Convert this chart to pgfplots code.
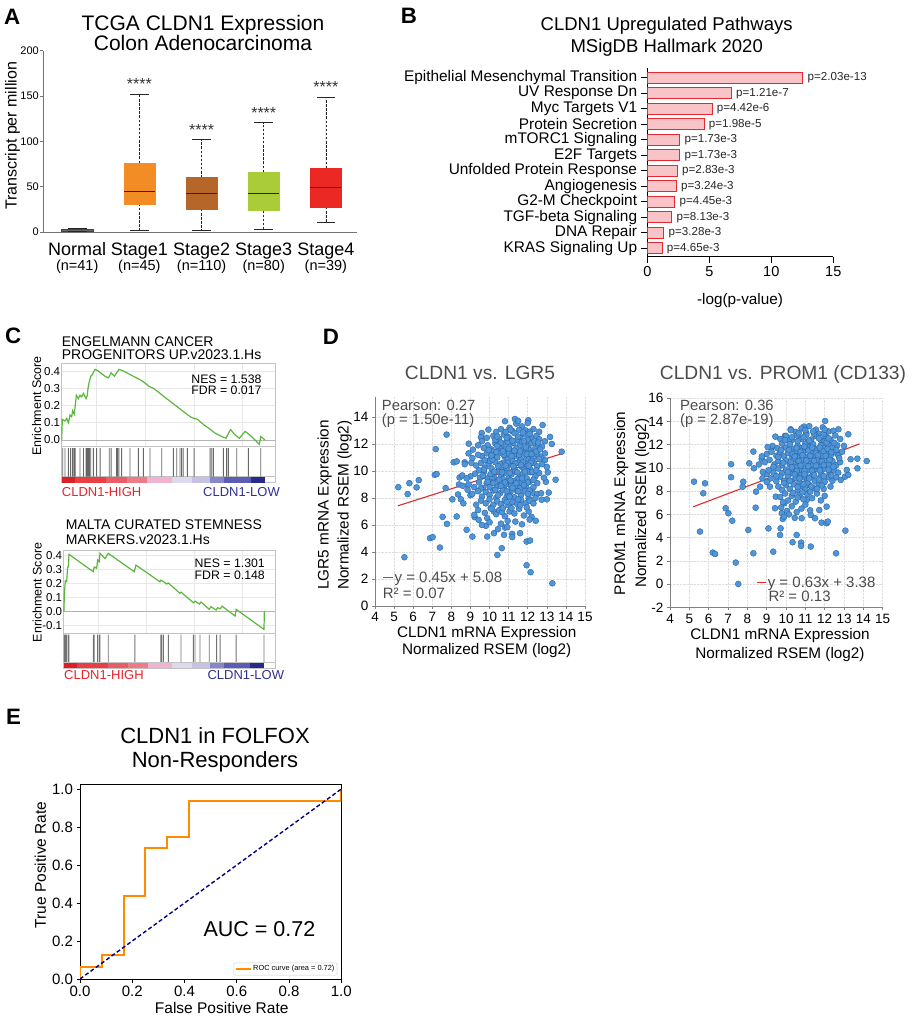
\documentclass[border=0pt]{standalone}
\usepackage{fontspec}
\setmainfont{Liberation Sans}
\usepackage{pgfplots}
\usepackage{pgfplotstable}
\usepgfplotslibrary{statistics}
\pgfplotsset{compat=1.18}
\newcommand{\fs}[1]{\fontsize{#1pt}{#1pt}\selectfont}
\definecolor{aNormal}{RGB}{58,58,150}
\definecolor{aS1}{RGB}{243,140,36}
\definecolor{aS2}{RGB}{183,102,42}
\definecolor{aS3}{RGB}{170,204,56}
\definecolor{aS4}{RGB}{236,40,36}
\definecolor{bFill}{RGB}{248,196,200}
\definecolor{bDraw}{RGB}{232,40,48}
\definecolor{cGreen}{RGB}{92,182,62}
\definecolor{cFrame}{RGB}{195,195,195}
\definecolor{cGrid}{RGB}{232,232,232}
\definecolor{cHigh}{RGB}{232,35,42}
\definecolor{cLow}{RGB}{46,49,146}
\definecolor{dFill}{RGB}{80,150,215}
\definecolor{dDraw}{RGB}{40,100,170}
\definecolor{dRed}{RGB}{220,45,45}
\definecolor{dText}{RGB}{75,75,75}
\definecolor{eOrange}{RGB}{255,140,0}
\definecolor{eNavy}{RGB}{0,0,128}
\definecolor{hm1}{RGB}{222,30,38}
\definecolor{hm2}{RGB}{232,62,68}
\definecolor{hm3}{RGB}{234,92,102}
\definecolor{hm4}{RGB}{238,124,134}
\definecolor{hm5}{RGB}{240,180,206}
\definecolor{hm6}{RGB}{222,218,238}
\definecolor{hm7}{RGB}{198,194,230}
\definecolor{hm8}{RGB}{134,134,202}
\definecolor{hm9}{RGB}{92,92,178}
\definecolor{hm10}{RGB}{38,42,140}
\pgfplotsset{pan/.style={scale only axis, anchor=south west, /pgf/number format/assume math mode=true}}

\pgfplotstableread{
y v lab
12 12.55 p=2.03e-13
11 6.78 p=1.21e-7
10 5.22 p=4.42e-6
9 4.58 p=1.98e-5
8 2.62 p=1.73e-3
7 2.62 p=1.73e-3
6 2.42 p=2.83e-3
5 2.34 p=3.24e-3
4 2.22 p=4.45e-3
3 1.98 p=8.13e-3
2 1.34 p=3.28e-3
1 1.20 p=4.65e-3
}\tabB

\begin{document}
\begin{tikzpicture}
\path[use as bounding box] (0pt,0pt) rectangle (912pt,1017pt);

% ---------------- Panel labels
\node[anchor=base west, inner sep=0pt, font=\bfseries\fs{22.3}] at (4pt,992.7pt) {A};
\node[anchor=base west, inner sep=0pt, font=\bfseries\fs{22.3}] at (400.7pt,993.7pt) {B};
\node[anchor=base west, inner sep=0pt, font=\bfseries\fs{22.3}] at (5pt,673.7pt) {C};
\node[anchor=base west, inner sep=0pt, font=\bfseries\fs{22.3}] at (322.7pt,672.7pt) {D};
\node[anchor=base west, inner sep=0pt, font=\bfseries\fs{22.3}] at (6pt,292pt) {E};

% ---------------- Panel A
\node[anchor=base, inner sep=0pt, font=\fs{21}] at (203pt,986pt) {TCGA CLDN1 Expression};
\node[anchor=base, inner sep=0pt, font=\fs{21}] at (203pt,966.3pt) {Colon Adenocarcinoma};
\node[anchor=base, inner sep=0pt, rotate=90, font=\fs{16}] at (16.7pt,881pt) {Transcript per million};
\begin{axis}[pan, at={(43pt,785pt)}, width=314pt, height=181.3pt,
  xmin=0.45, xmax=5.5, ymin=0, ymax=200,
  axis lines=left, axis line style={-, black!55, line width=0.8pt},
  xtick={1,2,3,4,5}, xticklabels={Normal,Stage1,Stage2,Stage3,Stage4},
  xtick style={draw=none},
  ytick={0,50,100,150,200}, ytick style={black!55, line width=0.8pt},
  tick align=outside, major tick length=3pt,
  yticklabel style={font=\fs{11}, inner sep=1pt},
  xticklabel style={font=\fs{18}, anchor=base, yshift=-21pt, inner sep=0pt},
  boxplot/draw direction=y,
  boxplot/every whisker/.style={draw=black!85, dash pattern=on 2.5pt off 1.6pt, line width=0.7pt},
  boxplot/every median/.style={draw=black!85, line width=1.1pt},
  boxplot/whisker extend=0,
  boxplot/box extend=0.5]
\addplot[fill=aNormal, draw=aNormal, boxplot/every median/.style={draw=black!60, line width=0.5pt}, boxplot prepared={draw position=1, lower whisker=0.5, lower quartile=0.8, median=2.0, upper quartile=3.3, upper whisker=4.2}] coordinates {};
\addplot[fill=aS1, draw=aS1, boxplot prepared={draw position=2, lower whisker=2, lower quartile=31, median=44.5, upper quartile=76, upper whisker=152}] coordinates {};
\addplot[fill=aS2, draw=aS2, boxplot prepared={draw position=3, lower whisker=1.5, lower quartile=25.4, median=42, upper quartile=60, upper whisker=101.7}] coordinates {};
\addplot[fill=aS3, draw=aS3, boxplot prepared={draw position=4, lower whisker=3.3, lower quartile=23.5, median=42, upper quartile=66, upper whisker=120.4}] coordinates {};
\addplot[fill=aS4, draw=aS4, boxplot prepared={draw position=5, lower whisker=10.3, lower quartile=27.6, median=49.4, upper quartile=70.4, upper whisker=148.4}] coordinates {};
\addplot[black!85, line width=0.7pt, unbounded coords=jump] coordinates {
 (0.85,0.5)(1.15,0.5)(nan,nan)(0.85,4.2)(1.15,4.2)(nan,nan)
 (1.85,2)(2.15,2)(nan,nan)(1.85,152)(2.15,152)(nan,nan)
 (2.85,1.5)(3.15,1.5)(nan,nan)(2.85,101.7)(3.15,101.7)(nan,nan)
 (3.85,3.3)(4.15,3.3)(nan,nan)(3.85,120.4)(4.15,120.4)(nan,nan)
 (4.85,10.3)(5.15,10.3)(nan,nan)(4.85,148.4)(5.15,148.4)};
\node[font=\fs{16}, text=black!80, inner sep=0pt] at (axis cs:2,163) {****};
\node[font=\fs{16}, text=black!80, inner sep=0pt] at (axis cs:3,112.5) {****};
\node[font=\fs{16}, text=black!80, inner sep=0pt] at (axis cs:4,131) {****};
\node[font=\fs{16}, text=black!80, inner sep=0pt] at (axis cs:5,159.8) {****};
\end{axis}
\node[anchor=base, inner sep=0pt, font=\fs{14.5}] at (77.2pt,746.5pt) {(n=41)};
\node[anchor=base, inner sep=0pt, font=\fs{14.5}] at (139.4pt,746.5pt) {(n=45)};
\node[anchor=base, inner sep=0pt, font=\fs{14.5}] at (201.6pt,746.5pt) {(n=110)};
\node[anchor=base, inner sep=0pt, font=\fs{14.5}] at (263.7pt,746.5pt) {(n=80)};
\node[anchor=base, inner sep=0pt, font=\fs{14.5}] at (325.9pt,746.5pt) {(n=39)};

% ---------------- Panel B
\node[anchor=base, inner sep=0pt, font=\fs{18.5}] at (666.7pt,986.3pt) {CLDN1 Upregulated Pathways};
\node[anchor=base, inner sep=0pt, font=\fs{18.5}] at (666.7pt,964.3pt) {MSigDB Hallmark 2020};
\node[anchor=base, inner sep=0pt, font=\fs{15.3}] at (740pt,712pt) {-log(p-value)};
\begin{axis}[pan, at={(647.3pt,760.3pt)}, width=186pt, height=189pt,
  xmin=0, xmax=15, ymin=0.456, ymax=12.65, clip=false,
  axis lines=left, axis line style={-, black, line width=0.8pt},
  xbar, bar width=0.73,
  xtick={0,5,10,15}, ytick={1,2,3,4,5,6,7,8,9,10,11,12},
  yticklabels={KRAS Signaling Up, DNA Repair, TGF-beta Signaling, G2-M Checkpoint, Angiogenesis, Unfolded Protein Response, E2F Targets, mTORC1 Signaling, Protein Secretion, Myc Targets V1, UV Response Dn, Epithelial Mesenchymal Transition},
  tick align=outside, major tick length=6pt, tick style={black, line width=0.8pt},
  yticklabel style={font=\fs{15.4}, inner sep=1pt, xshift=-3pt},
  xticklabel style={font=\fs{14.5}},
  nodes near coords={\pgfplotspointmeta}, point meta=explicit symbolic,
  nodes near coords align=horizontal,
  every node near coord/.append style={font=\fs{11.6}, inner sep=0pt, anchor=west, xshift=4.3pt, text=black!85}]
\addplot[fill=bFill, draw=bDraw, line width=1pt] table[x=v, y=y, meta=lab] {\tabB};
\end{axis}

% ---------------- Panel C (top)
\node[anchor=base west, inner sep=0pt, font=\fs{14}] at (61.7pt,670.3pt) {ENGELMANN CANCER};
\node[anchor=base west, inner sep=0pt, font=\fs{14}] at (61.7pt,657pt) {PROGENITORS UP.v2023.1.Hs};
\node[anchor=base, inner sep=0pt, rotate=90, font=\fs{12.5}] at (41pt,611.2pt) {Enrichment Score};
\begin{axis}[pan, at={(61.3pt,570.3pt)}, width=213.7pt, height=83.4pt,
  xmin=-0.2, xmax=104.9, ymin=-0.039, ymax=0.445,
  axis line style={cFrame, line width=0.8pt},
  xtick={17,41,65,89}, xticklabels={},
  ytick={0,0.1,0.2,0.3,0.4}, yticklabels={0.0,0.1,0.2,0.3,0.4},
  tick style={draw=none}, grid=major, major grid style={cGrid, line width=0.5pt},
  yticklabel style={font=\fs{11.5}, inner sep=1pt}]
\addplot[black!30, line width=0.7pt] coordinates {(-0.2,0)(104.9,0)};
\addplot[cGreen, line width=1.2pt] coordinates {(0,0)(0.3,0.12)(1.6,0.11)(2.5,0.125)(3.3,0.10)(4.1,0.145)(4.9,0.135)(5.4,0.17)(6.2,0.15)(7.2,0.26)(8.2,0.24)(9.0,0.26)(9.8,0.25)(10.7,0.27)(12.0,0.24)(12.6,0.26)(12.95,0.30)(13.4,0.33)(14.3,0.37)(15.1,0.38)(16.4,0.41)(18.0,0.40)(21.3,0.37)(22.95,0.36)(24.3,0.39)(25.9,0.37)(28.2,0.41)(30.3,0.40)(32.0,0.39)(33.6,0.38)(35.2,0.37)(38.5,0.35)(41.0,0.33)(43.1,0.31)(45.1,0.30)(48.4,0.27)(51.6,0.24)(54.9,0.21)(58.2,0.18)(61.5,0.15)(63.9,0.13)(66.7,0.12)(69.7,0.09)(72.1,0.07)(75.4,0.04)(78.7,0.02)(80.8,0.01)(82.5,0.05)(83.1,0.06)(85.2,0.03)(87.4,0.01)(90.2,0.05)(93.4,0.02)(97.2,-0.025)(97.9,0.02)(100,0.0)};
\end{axis}
\node[anchor=base east, inner sep=0pt, font=\fs{12.3}] at (261.7pt,633.7pt) {NES = 1.538};
\node[anchor=base east, inner sep=0pt, font=\fs{12.3}] at (261.7pt,622pt) {FDR = 0.017};
\begin{axis}[pan, at={(61.3pt,534.3pt)}, width=213.7pt, height=36pt,
  xmin=-0.2, xmax=104.9, ymin=-0.2, ymax=1,
  axis line style={cFrame, line width=0.8pt}, xtick=\empty, ytick=\empty]
\addplot[ybar, bar shift=0pt, bar width=6.3, fill=hm1, draw=none] coordinates {(3.15,-0.2)};
\addplot[ybar, bar shift=0pt, bar width=15.7, fill=hm2, draw=none] coordinates {(14.15,-0.2)};
\addplot[ybar, bar shift=0pt, bar width=10, fill=hm3, draw=none] coordinates {(27,-0.2)};
\addplot[ybar, bar shift=0pt, bar width=10, fill=hm4, draw=none] coordinates {(37,-0.2)};
\addplot[ybar, bar shift=0pt, bar width=12, fill=hm5, draw=none] coordinates {(48,-0.2)};
\addplot[ybar, bar shift=0pt, bar width=10, fill=hm6, draw=none] coordinates {(59,-0.2)};
\addplot[ybar, bar shift=0pt, bar width=9, fill=hm7, draw=none] coordinates {(68.5,-0.2)};
\addplot[ybar, bar shift=0pt, bar width=7, fill=hm8, draw=none] coordinates {(76.5,-0.2)};
\addplot[ybar, bar shift=0pt, bar width=13, fill=hm9, draw=none] coordinates {(86.5,-0.2)};
\addplot[ybar, bar shift=0pt, bar width=7, fill=hm10, draw=none] coordinates {(96.5,-0.2)};
\addplot[cFrame, line width=0.6pt] coordinates {(-0.2,0)(104.9,0)};
\addplot[ybar, bar shift=0pt, bar width=0.9pt, fill=black!60, draw=none] coordinates {(0.5,0.95)(1.6,0.95)(3.3,0.95)(4.4,0.95)(5.4,0.95)(6.1,0.95)(6.6,0.95)(9.0,0.95)(10.7,0.95)(12.0,0.95)(12.6,0.95)(13.1,0.95)(13.6,0.95)(14.3,0.95)(15.6,0.95)(17.2,0.95)(18.9,0.95)(23.4,0.95)(24.3,0.95)(27.0,0.95)(27.5,0.95)(28.2,0.95)(29.5,0.95)(33.6,0.95)(37.7,0.95)(40.2,0.95)(43.4,0.95)(49.2,0.95)(54.9,0.95)(56.6,0.95)(58.2,0.95)(59.0,0.95)(59.8,0.95)(61.8,0.95)(65.1,0.95)(73.0,0.95)(73.8,0.95)(74.6,0.95)(79.5,0.95)(81.1,0.95)(82.0,0.95)(86.1,0.95)(91.8,0.95)(97.9,0.95)};
\end{axis}
\node[anchor=base west, inner sep=0pt, font=\fs{13}, text=cHigh] at (61.7pt,520.3pt) {CLDN1-HIGH};
\node[anchor=base east, inner sep=0pt, font=\fs{13}, text=cLow] at (280pt,520.3pt) {CLDN1-LOW};

% ---------------- Panel C (bottom)
\node[anchor=base west, inner sep=0pt, font=\fs{14}] at (65.7pt,487.7pt) {MALTA CURATED STEMNESS};
\node[anchor=base west, inner sep=0pt, font=\fs{14}] at (65.7pt,472pt) {MARKERS.v2023.1.Hs};
\node[anchor=base, inner sep=0pt, rotate=90, font=\fs{12.5}] at (41.5pt,424.5pt) {Enrichment Score};
\begin{axis}[pan, at={(63.3pt,383.7pt)}, width=211.7pt, height=83.3pt,
  xmin=-0.33, xmax=105.3, ymin=-0.154, ymax=0.441,
  axis line style={cFrame, line width=0.8pt},
  xtick={17,41,65,89}, xticklabels={},
  ytick={-0.1,0,0.1,0.2,0.3,0.4}, yticklabels={-0.1,0.0,0.1,0.2,0.3,0.4},
  tick style={draw=none}, grid=major, major grid style={cGrid, line width=0.5pt},
  yticklabel style={font=\fs{11.5}, inner sep=1pt}]
\addplot[black!30, line width=0.7pt] coordinates {(-0.33,0)(105.3,0)};
\addplot[cGreen, line width=1.2pt] coordinates {(0,0)(0.17,0.12)(0.67,0.22)(1.33,0.215)(1.83,0.317)(2.16,0.32)(2.5,0.41)(14.6,0.286)(15.1,0.32)(16.3,0.31)(16.8,0.37)(17.6,0.357)(18.0,0.417)(20.5,0.38)(22.1,0.417)(35.1,0.286)(35.9,0.333)(47.9,0.214)(48.4,0.225)(49.7,0.215)(51.2,0.198)(52.1,0.205)(57.9,0.131)(58.4,0.14)(64.6,0.064)(65.4,0.076)(67.6,0.055)(68.4,0.069)(72.5,0.017)(73.4,0.036)(75.9,0.012)(76.7,0.029)(77.9,0.021)(78.9,0.04)(85.4,-0.031)(85.9,0.017)(99.8,-0.126)(100,0.005)};
\end{axis}
\node[anchor=base east, inner sep=0pt, font=\fs{12.3}] at (265pt,449.7pt) {NES = 1.301};
\node[anchor=base east, inner sep=0pt, font=\fs{12.3}] at (265pt,437pt) {FDR = 0.148};
\begin{axis}[pan, at={(63.3pt,348.7pt)}, width=211.7pt, height=35pt,
  xmin=-0.33, xmax=105.3, ymin=-0.22, ymax=1,
  axis line style={cFrame, line width=0.8pt}, xtick=\empty, ytick=\empty]
\addplot[ybar, bar shift=0pt, bar width=6.3, fill=hm1, draw=none] coordinates {(3.15,-0.22)};
\addplot[ybar, bar shift=0pt, bar width=15.7, fill=hm2, draw=none] coordinates {(14.15,-0.22)};
\addplot[ybar, bar shift=0pt, bar width=10, fill=hm3, draw=none] coordinates {(27,-0.22)};
\addplot[ybar, bar shift=0pt, bar width=10, fill=hm4, draw=none] coordinates {(37,-0.22)};
\addplot[ybar, bar shift=0pt, bar width=12, fill=hm5, draw=none] coordinates {(48,-0.22)};
\addplot[ybar, bar shift=0pt, bar width=10, fill=hm6, draw=none] coordinates {(59,-0.22)};
\addplot[ybar, bar shift=0pt, bar width=9, fill=hm7, draw=none] coordinates {(68.5,-0.22)};
\addplot[ybar, bar shift=0pt, bar width=7, fill=hm8, draw=none] coordinates {(76.5,-0.22)};
\addplot[ybar, bar shift=0pt, bar width=13, fill=hm9, draw=none] coordinates {(86.5,-0.22)};
\addplot[ybar, bar shift=0pt, bar width=7, fill=hm10, draw=none] coordinates {(96.5,-0.22)};
\addplot[cFrame, line width=0.6pt] coordinates {(-0.33,0)(105.3,0)};
\addplot[ybar, bar shift=0pt, bar width=0.9pt, fill=black!55, draw=none] coordinates {(0.2,0.95)(0.8,0.95)(1.3,0.95)(2.2,0.95)(2.5,0.95)(14.6,0.95)(15.1,0.95)(16.8,0.95)(17.6,0.95)(18.0,0.95)(22.1,0.95)(35.4,0.95)(48.3,0.95)(48.8,0.95)(49.6,0.95)(52.1,0.95)(58.4,0.95)(64.6,0.95)(65.4,0.95)(67.9,0.95)(72.5,0.95)(76.2,0.95)(77.9,0.95)(85.9,0.95)(99.8,0.95)};
\end{axis}
\node[anchor=base west, inner sep=0pt, font=\fs{13}, text=cHigh] at (64pt,337pt) {CLDN1-HIGH};
\node[anchor=base east, inner sep=0pt, font=\fs{13}, text=cLow] at (284.3pt,337pt) {CLDN1-LOW};

% ---------------- Panel D (left)
\node[anchor=base, inner sep=0pt, font=\fs{19.2}, text=dText] at (480pt,637pt) {CLDN1 vs. LGR5};
\node[anchor=base, inner sep=0pt, rotate=90, font=\fs{15.3}] at (328.5pt,512pt) {LGR5 mRNA Expression};
\node[anchor=base, inner sep=0pt, rotate=90, font=\fs{15.3}] at (348.5pt,512pt) {Normalized RSEM (log2)};
\node[anchor=base, inner sep=0pt, font=\fs{15.3}] at (486.7pt,379.7pt) {CLDN1 mRNA Expression};
\node[anchor=base, inner sep=0pt, font=\fs{15.3}] at (486.7pt,362pt) {Normalized RSEM (log2)};
\begin{axis}[pan, at={(375pt,411pt)}, width=210pt, height=209.3pt,
  xmin=4, xmax=15, ymin=0, ymax=15.5,
  axis lines=left, axis line style={-, black!50, line width=0.8pt},
  xtick={4,5,6,7,8,9,10,11,12,13,14,15}, ytick={0,2,4,6,8,10,12,14},
  tick align=outside, major tick length=3pt, tick style={black!50, line width=0.6pt},
  grid=major, major grid style={black!13, densely dotted, line width=0.5pt},
  tick label style={font=\fs{13.5}},
  legend style={at={(0.0324,0.135)}, anchor=west, draw=none, fill=none, inner sep=0pt, font=\fs{15}, text=dText, nodes={inner sep=1.5pt}},
  legend image code/.code={\draw[#1] (0pt,0pt) -- (10pt,0pt);}]
\addplot[only marks, mark=*, mark size=3pt, mark options={fill=dFill, draw=dDraw, line width=0.4pt}, forget plot] coordinates {
(5.22,8.8)(5.8,9.1)(5.71,8.29)(6.18,8.78)(6.29,9.32)(5.54,3.61)(7.18,11.62)(7.13,9.72)(7.23,9.77)(7.75,12.69)(7.7,8.73)(6.88,5.02)(7.02,5.1)(7.4,4.33)(7.54,6.6)(7.77,6.08)(8.05,7.9)(8.12,10.64)(8.28,10.71)(8.28,6.63)(8.35,8.26)(8.43,9.52)(8.57,9.67)(8.7,10.64)(8.5,7.9)(8.63,7.6)(8.8,5.64)(8.91,12.02)(9.1,5.14)(9.13,11.58)(9.22,6.58)(9.43,6.38)(9.59,12.81)(9.88,6.5)(9.88,5.14)(9.81,5.94)(10.06,7.25)(10.23,7.0)(10.23,5.39)(10.41,3.78)(10.44,5.69)(10.64,4.28)(10.76,5.27)(10.81,5.81)(10.93,5.84)(11.19,5.34)(11.19,5.1)(11.6,5.39)(11.94,4.77)(12.12,4.85)(11.94,3.02)(12.15,2.5)(13.29,1.68)(12.42,6.31)(12.73,7.87)(13.46,9.35)(12.95,9.2)(13.78,11.43)(13.17,12.52)(13.26,12.0)(12.78,13.4)(11.33,13.85)(10.81,13.68)(12.03,13.75)(9.94,13.06)(9.55,12.5)
(8.4,9.0)(8.9,11.3)(9.0,8.2)(12.9,10.8)(13.05,9.9)(12.6,12.9)(12.9,12.2)(13.0,7.9)
(11.05,13.2)(11.4,13.5)(11.7,13.3)(12.0,13.55)(11.2,12.95)(11.9,13.0)(12.3,13.1)(10.6,13.1)(11.55,13.05)(12.1,12.9)
(10.2,12.6)(10.5,12.4)(10.75,12.7)(11.0,12.5)(11.3,12.8)(11.6,12.45)(11.85,12.7)(12.15,12.5)(12.45,12.6)(10.9,12.2)(11.45,12.3)(12.0,12.3)(9.85,12.45)(10.35,12.9)(12.6,12.35)(9.6,12.2)
(9.9,11.9)(10.1,11.6)(10.3,12.05)(10.55,11.75)(10.7,12.0)(10.85,11.6)(11.05,11.9)(11.25,12.1)(11.4,11.7)(11.6,11.95)(11.8,11.6)(12.0,11.85)(12.2,12.05)(12.4,11.7)(12.55,11.95)(10.45,11.5)(11.15,11.5)(11.7,12.15)(12.1,11.55)(9.7,11.7)(12.75,11.8)(9.4,11.9)(10.95,12.15)
(9.6,11.1)(9.85,11.3)(10.05,10.9)(10.25,11.25)(10.4,11.0)(10.6,11.35)(10.8,11.05)(11.0,11.3)(11.2,10.95)(11.35,11.25)(11.55,11.0)(11.75,11.3)(11.95,11.05)(12.15,11.35)(12.3,11.0)(12.5,11.25)(12.7,11.05)(9.4,11.2)(10.15,11.45)(10.95,10.85)(11.65,10.85)(12.05,10.85)(12.9,11.3)(9.1,10.95)
(9.3,10.4)(9.55,10.6)(9.75,10.25)(9.95,10.55)(10.1,10.2)(10.3,10.65)(10.5,10.3)(10.7,10.6)(10.9,10.2)(11.1,10.5)(11.3,10.15)(11.5,10.6)(11.7,10.3)(11.9,10.55)(12.1,10.2)(12.3,10.6)(12.5,10.35)(12.75,10.5)(9.05,10.6)(10.0,10.75)(10.6,10.1)(11.2,10.75)(11.8,10.1)(12.2,10.75)(13.0,10.3)(8.7,10.5)
(9.0,9.6)(9.25,9.8)(9.5,9.5)(9.7,9.9)(9.9,9.45)(10.05,9.75)(10.25,9.5)(10.45,9.95)(10.6,9.6)(10.8,9.85)(11.0,9.45)(11.15,9.75)(11.35,9.95)(11.55,9.5)(11.75,9.8)(11.95,9.45)(12.15,9.9)(12.4,9.6)(12.6,9.85)(8.8,9.45)(10.15,9.4)(10.7,9.4)(11.45,9.4)(12.0,9.95)(12.85,9.5)
(8.9,9.0)(9.2,8.8)(9.45,9.15)(9.65,8.75)(9.85,9.1)(10.0,8.8)(10.2,9.2)(10.4,8.85)(10.55,9.1)(10.75,8.75)(10.95,9.2)(11.1,8.9)(11.3,9.25)(11.5,8.8)(11.7,9.1)(11.9,8.85)(12.1,9.2)(12.3,8.8)(12.5,9.1)(9.55,8.7)(10.85,9.0)(11.6,8.7)(8.6,8.9)
(9.1,8.3)(9.4,8.5)(9.6,8.1)(9.8,8.45)(10.0,8.2)(10.2,8.55)(10.35,8.0)(10.55,8.35)(10.7,8.6)(10.9,8.1)(11.1,8.45)(11.3,8.05)(11.45,8.5)(11.65,8.2)(11.85,8.5)(12.05,8.0)(12.25,8.4)(12.5,8.3)(8.85,8.6)(11.0,8.25)(12.7,8.35)(13.1,8.4)
(9.55,7.8)(9.8,7.6)(10.0,7.9)(10.2,7.5)(10.4,7.75)(10.6,7.55)(10.8,7.85)(11.0,7.45)(11.2,7.7)(11.45,7.55)(11.65,7.85)(11.9,7.6)(12.1,7.8)(9.3,7.5)(10.9,7.7)(12.3,7.6)
(9.4,7.1)(9.75,6.9)(10.1,7.2)(10.35,6.8)(10.5,7.1)(10.8,6.65)(11.05,7.0)(11.3,6.85)(11.55,7.2)(11.8,6.7)(12.05,7.0)(9.2,6.75)(10.65,6.95)(11.95,7.3)(12.2,6.6)
(10.0,6.2)(10.6,6.1)(10.95,6.3)(11.35,6.25)(11.7,6.05)(12.1,6.4)(9.6,6.0)
(10.15,10.85)(10.35,11.4)(10.55,10.5)(10.75,11.2)(10.95,10.6)(11.15,11.1)(11.35,10.55)(11.55,11.2)(11.75,10.65)(11.95,11.25)(12.15,10.6)(10.25,9.95)(10.45,10.35)(10.65,9.9)(10.85,10.4)(11.05,9.85)(11.25,10.35)(11.45,9.9)(11.65,10.45)(11.85,9.95)(12.05,10.4)(12.25,9.95)(10.3,12.3)(10.6,12.1)(10.9,12.45)(11.2,12.25)(11.5,12.55)(11.8,12.2)(12.1,12.75)(10.1,11.15)(10.4,11.85)(10.7,11.45)(11.0,11.65)(11.3,11.5)(11.6,11.45)(11.9,11.75)(12.2,11.25)(12.45,11.45)(10.2,9.1)(10.5,9.35)(10.8,9.15)(11.1,9.3)(11.4,9.1)(11.7,9.45)(12.0,9.15)(12.3,9.35)(10.3,8.6)(10.6,8.9)(10.9,8.5)(11.2,8.75)(11.5,8.5)(11.8,8.95)(12.1,8.55)(9.75,10.8)(9.95,11.55)(9.7,10.1)(9.9,9.2)(12.6,10.9)(12.45,10.05)(12.35,12.2)(11.1,13.05)(11.5,13.7)(11.75,12.85)(10.85,12.9)(10.4,12.55)(11.05,8.1)(11.5,7.9)(10.45,8.2)(10.7,7.25)(11.15,7.25)(11.6,7.45)(12.4,8.0)(12.0,8.3)(9.65,9.65)(9.45,10.05)(12.55,12.1)(12.65,11.6)};
\addplot[dRed, line width=1.1pt] coordinates {(5.2,7.42)(13.8,11.29)};
\addlegendentry{y = 0.45x + 5.08}
\end{axis}
\node[anchor=base west, inner sep=0pt, font=\fs{14.8}, text=dText] at (381.7pt,606.3pt) {Pearson: 0.27};
\node[anchor=base west, inner sep=0pt, font=\fs{14.8}, text=dText] at (381.7pt,592pt) {(p = 1.50e-11)};
\node[anchor=base west, inner sep=0pt, font=\fs{15}, text=dText] at (382.7pt,418.7pt) {R² = 0.07};

% ---------------- Panel D (right)
\node[anchor=base, inner sep=0pt, font=\fs{19.2}, text=dText] at (783pt,637pt) {CLDN1 vs. PROM1 (CD133)};
\node[anchor=base, inner sep=0pt, rotate=90, font=\fs{15.3}] at (625pt,513.7pt) {PROM1 mRNA Expression};
\node[anchor=base, inner sep=0pt, rotate=90, font=\fs{15.3}] at (646pt,513.7pt) {Normalized RSEM (log2)};
\node[anchor=base, inner sep=0pt, font=\fs{15.3}] at (780pt,377.7pt) {CLDN1 mRNA Expression};
\node[anchor=base, inner sep=0pt, font=\fs{15.3}] at (780pt,358.7pt) {Normalized RSEM (log2)};
\begin{axis}[pan, at={(670pt,409.7pt)}, width=212.7pt, height=209pt,
  xmin=4, xmax=15, ymin=-2, ymax=16,
  axis lines=left, axis line style={-, black!50, line width=0.8pt},
  xtick={4,5,6,7,8,9,10,11,12,13,14,15}, ytick={-2,0,2,4,6,8,10,12,14,16},
  tick align=outside, major tick length=3pt, tick style={black!50, line width=0.6pt},
  grid=major, major grid style={black!13, densely dotted, line width=0.5pt},
  tick label style={font=\fs{13.5}},
  legend style={at={(0.4044,0.1176)}, anchor=west, draw=none, fill=none, inner sep=0pt, font=\fs{15}, text=dText, nodes={inner sep=1.5pt}},
  legend image code/.code={\draw[#1] (0pt,0pt) -- (9pt,0pt);}]
\addplot[only marks, mark=*, mark size=3pt, mark options={fill=dFill, draw=dDraw, line width=0.4pt}, forget plot] coordinates {
(5.24,8.82)(5.81,8.68)(5.72,7.82)(5.55,4.52)(6.21,2.71)(6.33,2.59)(6.88,6.53)(7.02,6.1)(7.22,5.46)(7.16,9.2)(7.16,10.32)(7.4,1.85)(7.53,0.01)(7.79,8.82)(7.76,8.39)(8.05,4.66)(8.1,10.4)(8.31,11.41)(8.31,2.65)(8.34,9.97)(8.43,6.58)(8.45,7.96)(8.66,8.39)(8.78,9.11)(8.74,10.78)(9.0,9.48)(9.09,4.8)(9.17,8.39)(9.22,11.7)(9.34,2.79)(9.43,6.53)(9.47,7.53)(9.69,4.23)(9.72,4.8)(9.78,6.1)(9.83,5.61)(9.91,6.96)(10.34,3.6)(10.55,4.23)(10.78,3.57)(10.78,3.28)(10.81,5.67)(11.07,7.24)(11.28,3.23)(11.28,5.95)(11.5,5.67)(11.72,6.38)(11.84,5.29)(12.1,5.24)(12.1,6.67)(12.16,5.38)(12.59,2.65)(13.07,4.6)(12.83,8.97)(13.05,9.25)(13.14,9.83)(13.22,9.4)(13.34,10.75)(13.69,9.97)(13.69,10.8)(14.17,10.6)(13.22,12.9)(12.71,13.33)(12.02,14.05)(10.93,13.56)(10.24,13.33)(9.95,12.76)
(10.8,13.4)(11.2,13.6)(11.55,13.3)(11.9,13.5)(12.2,13.15)(10.5,13.1)(11.05,13.0)(11.7,12.95)(12.45,13.2)(10.25,13.25)
(9.7,12.5)(10.0,12.75)(10.3,12.4)(10.55,12.8)(10.8,12.5)(11.05,12.85)(11.3,12.45)(11.55,12.75)(11.8,12.4)(12.05,12.7)(12.3,12.45)(12.55,12.8)(10.15,12.35)(11.15,12.3)(12.0,12.3)(9.45,12.7)(12.8,12.5)
(9.3,11.9)(9.55,11.7)(9.8,12.1)(10.0,11.75)(10.2,12.05)(10.4,11.65)(10.6,11.95)(10.8,11.7)(11.0,12.1)(11.2,11.8)(11.4,12.05)(11.6,11.65)(11.8,11.95)(12.0,11.7)(12.2,12.0)(12.4,11.75)(12.65,11.95)(9.05,11.8)(10.9,11.6)(11.5,11.6)(12.1,12.2)(13.0,11.9)
(9.0,11.2)(9.25,11.4)(9.5,11.05)(9.7,11.35)(9.9,11.0)(10.1,11.3)(10.3,10.95)(10.5,11.45)(10.7,11.1)(10.9,11.35)(11.1,10.95)(11.3,11.3)(11.5,11.05)(11.7,11.4)(11.9,11.0)(12.1,11.3)(12.3,11.05)(12.5,11.35)(12.7,11.1)(8.75,11.0)(10.6,10.9)(11.6,11.5)(12.9,11.4)
(8.9,10.5)(9.15,10.7)(9.4,10.3)(9.6,10.6)(9.8,10.25)(10.0,10.65)(10.2,10.3)(10.4,10.75)(10.6,10.4)(10.8,10.7)(11.0,10.3)(11.2,10.6)(11.4,10.25)(11.6,10.7)(11.8,10.35)(12.0,10.65)(12.2,10.3)(12.4,10.6)(12.6,10.25)(8.6,10.3)(10.5,10.2)(11.3,10.8)(12.8,10.5)
(9.1,9.8)(9.35,9.6)(9.6,9.95)(9.8,9.55)(10.0,9.85)(10.2,9.5)(10.4,9.9)(10.6,9.6)(10.8,9.95)(11.0,9.5)(11.2,9.85)(11.4,9.55)(11.6,9.9)(11.8,9.6)(12.0,9.95)(12.25,9.55)(12.5,9.8)(8.8,9.65)(10.5,10.05)(11.7,10.05)(12.7,9.6)
(9.2,9.1)(9.5,8.85)(9.7,9.25)(9.9,8.9)(10.1,9.3)(10.3,8.85)(10.5,9.15)(10.7,8.8)(10.9,9.2)(11.1,8.9)(11.3,9.25)(11.5,8.85)(11.75,9.15)(12.0,8.8)(12.2,9.2)(9.0,8.8)(10.8,9.4)(12.4,8.9)
(9.6,8.4)(9.8,8.1)(10.0,8.55)(10.2,8.2)(10.4,8.6)(10.6,8.05)(10.8,8.45)(11.0,8.15)(11.2,8.55)(11.45,8.25)(11.7,8.6)(11.95,8.2)(12.3,8.4)(9.9,8.7)(11.1,8.7)
(9.7,7.5)(9.95,7.8)(10.1,7.2)(10.3,7.6)(10.5,7.1)(10.7,7.7)(10.9,7.3)(11.1,7.75)(11.35,7.4)(11.6,7.8)(9.85,7.05)(10.6,7.45)(11.8,7.2)(12.0,7.6)
(9.75,6.6)(10.05,6.3)(10.3,6.7)(10.55,6.2)(10.8,6.5)(11.0,6.85)(11.25,6.35)(10.15,6.0)(9.9,5.8)(10.45,5.7)
(10.15,11.55)(10.35,11.2)(10.55,11.7)(10.75,11.4)(10.95,11.85)(11.15,11.5)(11.35,11.75)(11.55,11.3)(11.75,11.75)(11.95,11.45)(12.15,11.65)(12.35,11.35)(10.25,10.5)(10.45,11.0)(10.65,10.6)(10.85,11.1)(11.05,10.65)(11.25,11.05)(11.45,10.6)(11.65,11.1)(11.85,10.55)(12.05,11.05)(12.25,10.7)(10.3,12.65)(10.6,12.3)(10.9,12.65)(11.2,12.35)(11.45,12.95)(11.7,12.55)(11.95,12.95)(12.2,12.55)(10.1,9.65)(10.3,10.05)(10.55,9.75)(10.75,10.2)(10.95,9.75)(11.15,10.15)(11.35,9.75)(11.55,10.2)(11.75,9.8)(11.95,10.25)(12.2,9.85)(12.45,10.1)(10.2,8.9)(10.45,9.45)(10.7,9.1)(10.95,9.45)(11.2,9.1)(11.45,9.4)(11.7,9.0)(11.95,9.3)(9.75,11.55)(9.6,10.95)(9.85,10.45)(9.95,12.4)(12.5,12.15)(12.6,11.55)(12.75,10.85)(11.0,13.25)(11.4,13.15)(12.0,13.3)(10.65,13.0)(10.6,8.35)(10.9,8.6)(11.3,8.4)(11.6,8.2)(11.85,8.5)(10.35,7.85)(10.85,7.9)(11.25,7.95)(9.5,9.3)(9.35,10.1)(12.35,9.35)(12.6,9.2)};
\addplot[dRed, line width=1.1pt] coordinates {(5.2,6.656)(13.8,12.074)};
\addlegendentry{y = 0.63x + 3.38}
\end{axis}
\node[anchor=base west, inner sep=0pt, font=\fs{14.8}, text=dText] at (680pt,606.3pt) {Pearson: 0.36};
\node[anchor=base west, inner sep=0pt, font=\fs{14.8}, text=dText] at (680pt,592pt) {(p = 2.87e-19)};
\node[anchor=base west, inner sep=0pt, font=\fs{15}, text=dText] at (768.3pt,415.3pt) {R² = 0.13};

% ---------------- Panel E
\node[anchor=base, inner sep=0pt, font=\fs{22}] at (215pt,273pt) {CLDN1 in FOLFOX};
\node[anchor=base, inner sep=0pt, font=\fs{22}] at (215pt,249.7pt) {Non-Responders};
\node[anchor=base, inner sep=0pt, font=\fs{15.5}] at (221.7pt,3pt) {False Positive Rate};
\node[anchor=base, inner sep=0pt, rotate=90, font=\fs{15.5}] at (46pt,152pt) {True Positive Rate};
\begin{axis}[pan, at={(80pt,38pt)}, width=261.3pt, height=194.7pt,
  xmin=0, xmax=1, ymin=0, ymax=1.025,
  axis line style={black, line width=0.8pt},
  xtick={0,0.2,0.4,0.6,0.8,1.0}, xticklabels={0.0,0.2,0.4,0.6,0.8,1.0},
  ytick={0,0.2,0.4,0.6,0.8,1.0}, yticklabels={0.0,0.2,0.4,0.6,0.8,1.0},
  tick align=outside, xtick pos=left, ytick pos=left,
  major tick length=3.5pt, tick style={black, line width=0.8pt},
  tick label style={font=\fs{15}},
  legend style={at={(0.9847,0.019)}, anchor=south east, font=\fs{7.4}, draw=black!20, fill=white, rounded corners=1.5pt, inner sep=1.5pt, nodes={inner sep=1.2pt}},
  legend image code/.code={\draw[#1] (0pt,0pt) -- (15pt,0pt);}]
\addplot[eOrange, line width=2pt] coordinates {(0,0)(0,0.0625)(0.0833,0.0625)(0.0833,0.125)(0.1667,0.125)(0.1667,0.4375)(0.25,0.4375)(0.25,0.6875)(0.3333,0.6875)(0.3333,0.75)(0.4167,0.75)(0.4167,0.9375)(1,0.9375)(1,1)};
\addlegendentry{ROC curve (area = 0.72)}
\addplot[eNavy, line width=1.4pt, dash pattern=on 4pt off 2.5pt, forget plot] coordinates {(0,0)(1,1)};
\end{axis}
\node[anchor=base west, inner sep=0pt, font=\fs{21.5}] at (203.3pt,80.3pt) {AUC = 0.72};

\end{tikzpicture}
\end{document}
